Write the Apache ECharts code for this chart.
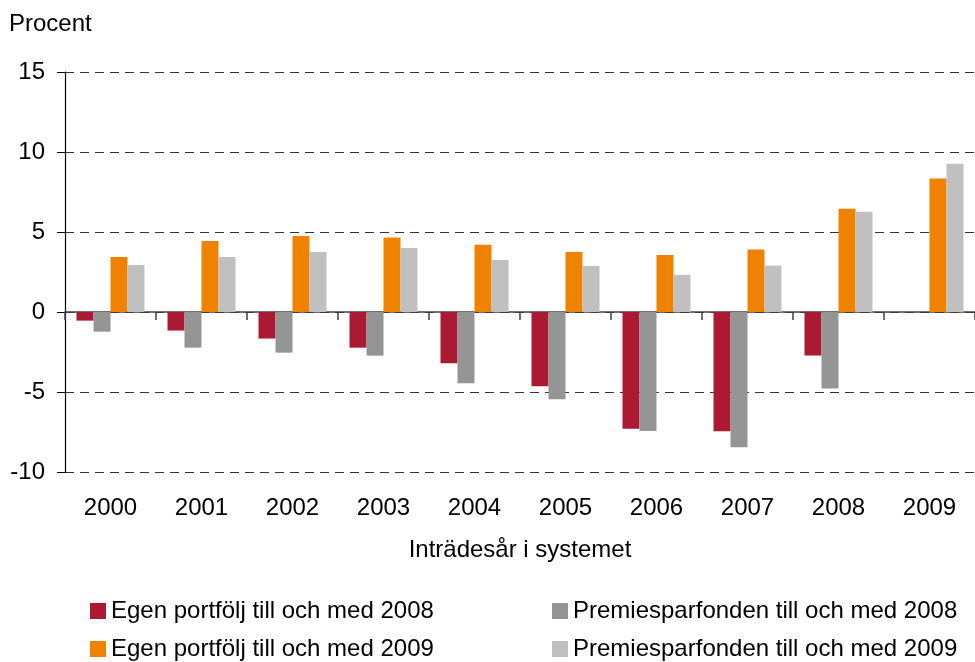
<!DOCTYPE html>
<html>
<head>
<meta charset="utf-8">
<script src="https://cdn.jsdelivr.net/npm/echarts@6/dist/echarts.min.js"></script>
<style>
  html, body { margin: 0; padding: 0; background: #fff; }
  #chart { width: 975px; height: 662px; }
</style>
</head>
<body>
<div id="chart"></div>
<script>
const years = ['2000', '2001', '2002', '2003', '2004', '2005', '2006', '2007', '2008', '2009']
const egen2008 = [-0.54, -1.16, -1.66, -2.23, -3.2, -4.64, -7.3, -7.46, -2.72, null]
const premie2008 = [-1.23, -2.23, -2.54, -2.73, -4.45, -5.45, -7.43, -8.46, -4.78, null]
const egen2009 = [3.44, 4.44, 4.75, 4.65, 4.2, 3.75, 3.56, 3.9, 6.45, 8.35]
const premie2009 = [2.94, 3.44, 3.75, 4.0, 3.25, 2.88, 2.32, 2.9, 6.27, 9.27]

const font = 'Liberation Sans, Arial, sans-serif'
const chart = echarts.init(document.getElementById('chart'))

function bar(name, data, color) {
  return {
    name: name,
    type: 'bar',
    xAxisIndex: 0,
    data: data,
    barWidth: 17,
    barGap: '0%',
    itemStyle: { color: color },
  }
}

function legendCol(items, left) {
  return {
    data: items,
    orient: 'vertical',
    left: left,
    top: 599,
    padding: 0,
    itemWidth: 16,
    itemHeight: 16,
    itemGap: 14,
    icon: 'rect',
    textStyle: { fontSize: 24, lineHeight: 24, color: '#000', fontFamily: font },
  }
}

chart.setOption({
  animation: false,
  textStyle: { fontFamily: font },
  title: {
    text: 'Procent',
    left: 9,
    top: 12,
    padding: 0,
    textStyle: { fontSize: 24, fontWeight: 'normal', color: '#000', fontFamily: font },
  },
  grid: { left: 65, right: 0, top: 72, bottom: 190, outerBoundsMode: 'none' },
  xAxis: [
    {
      // axis line at zero with the category ticks
      type: 'category',
      data: years,
      position: 'bottom',
      axisLine: { onZero: true, lineStyle: { color: '#404040', width: 1.5 } },
      axisTick: { show: true, length: 8, lineStyle: { color: '#404040', width: 1.5 } },
      axisLabel: { show: false },
    },
    {
      // labels at the bottom of the plot
      type: 'category',
      data: years,
      position: 'bottom',
      offset: 0,
      name: 'Inträdesår i systemet',
      nameLocation: 'middle',
      nameGap: 66,
      nameTextStyle: { fontSize: 24, color: '#000', fontFamily: font },
      axisLine: { show: false, onZero: false },
      axisTick: { show: false },
      axisLabel: { fontSize: 24, color: '#000', fontFamily: font, margin: 24, interval: 0 },
    },
  ],
  yAxis: {
    type: 'value',
    min: -10,
    max: 15,
    interval: 5,
    axisLine: { show: true, lineStyle: { color: '#000', width: 1.2 } },
    axisTick: { show: true, length: 8, lineStyle: { color: '#000' } },
    axisLabel: { fontSize: 24, color: '#000', fontFamily: font, margin: 20 },
    splitLine: { lineStyle: { color: '#333', type: [9, 6], width: 1.2 } },
  },
  legend: [
    legendCol(['Egen portfölj till och med 2008', 'Egen portfölj till och med 2009'], 90),
    legendCol(['Premiesparfonden till och med 2008', 'Premiesparfonden till och med 2009'], 552),
  ],
  series: [
    bar('Egen portfölj till och med 2008', egen2008, '#ab1a32'),
    bar('Premiesparfonden till och med 2008', premie2008, '#959595'),
    bar('Egen portfölj till och med 2009', egen2009, '#ef8200'),
    bar('Premiesparfonden till och med 2009', premie2009, '#c0c0c0'),
  ],
})
</script>
</body>
</html>
